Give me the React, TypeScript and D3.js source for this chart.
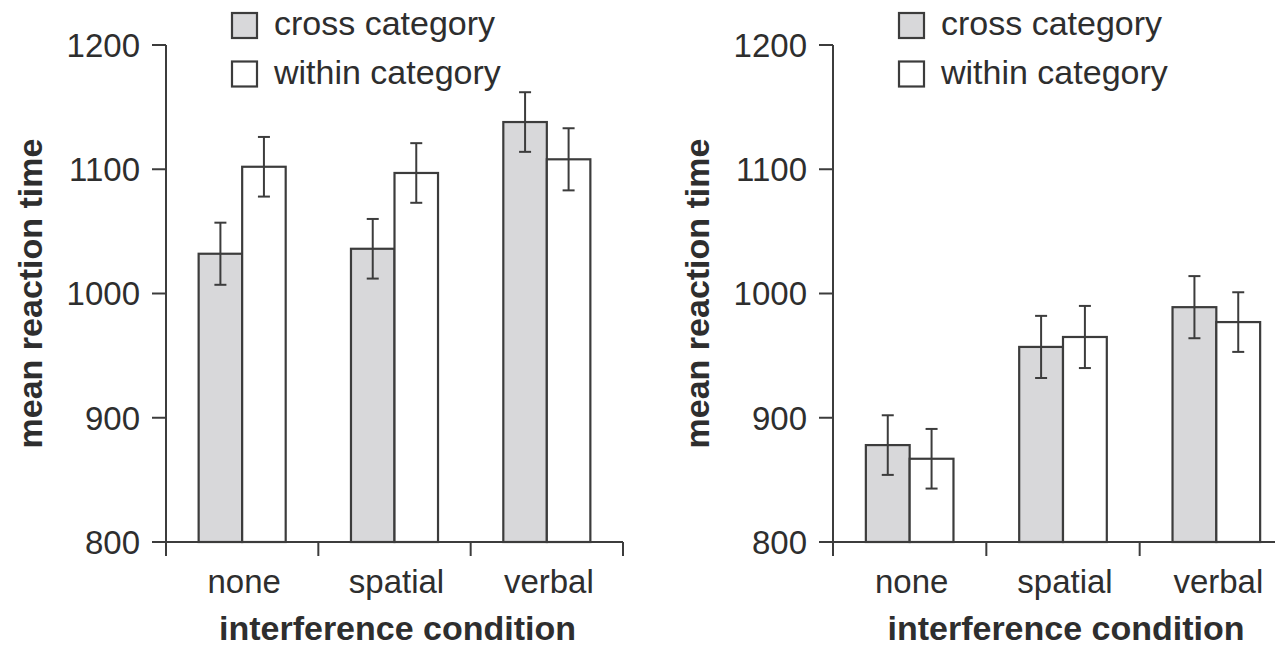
import * as d3 from 'd3'

// Categories and series
const conditions = ['none', 'spatial', 'verbal']
const seriesNames = ['cross category', 'within category']
const yTicks = [800, 900, 1000, 1100, 1200]

// Panel A (left)
const leftCross = [1032, 1036, 1138]
const leftWithin = [1102, 1097, 1108]
const leftCrossErr = [25, 24, 24]
const leftWithinErr = [24, 24, 25]

// Panel B (right)
const rightCross = [878, 957, 989]
const rightWithin = [867, 965, 977]
const rightCrossErr = [24, 25, 25]
const rightWithinErr = [24, 25, 24]

const W = 1275
const H = 647
const fills = ['#d8d8da', '#ffffff']
const ink = '#3c3c3c'
const textColor = '#2e2e2e'
const font = '"Liberation Sans", Arial, Helvetica, sans-serif'

type PanelProps = {
  axisX: number
  axisEnd: number
  cross: number[]
  within: number[]
  crossErr: number[]
  withinErr: number[]
}

function Panel({ axisX, axisEnd, cross, within, crossErr, withinErr }: PanelProps) {
  const y = d3.scaleLinear().domain([800, 1200]).range([542, 45])
  const x = d3.scaleBand().domain(conditions).range([axisX, axisEnd]).paddingInner(0).paddingOuter(0)
  const xs = d3.scaleBand().domain(seriesNames).range([0, x.bandwidth()]).paddingInner(0).paddingOuter(0.75)
  const values = [cross, within]
  const errs = [crossErr, withinErr]
  const tickLen = 14
  const y0 = y(800)

  return (
    <g>
      {/* bars */}
      {conditions.map((c, ci) =>
        seriesNames.map((s, si) => {
          const bx = (x(c) ?? 0) + (xs(s) ?? 0)
          const v = values[si][ci]
          return (
            <rect
              key={c + s}
              x={bx}
              y={y(v)}
              width={xs.bandwidth()}
              height={y0 - y(v)}
              fill={fills[si]}
              stroke={ink}
              strokeWidth={2.2}
            />
          )
        })
      )}
      {/* error bars */}
      {conditions.map((c, ci) =>
        seriesNames.map((s, si) => {
          const cx = (x(c) ?? 0) + (xs(s) ?? 0) + xs.bandwidth() / 2
          const v = values[si][ci]
          const e = errs[si][ci]
          return (
            <g key={'e' + c + s} stroke={ink} strokeWidth={2}>
              <line x1={cx} x2={cx} y1={y(v + e)} y2={y(v - e)} />
              <line x1={cx - 6} x2={cx + 6} y1={y(v + e)} y2={y(v + e)} />
              <line x1={cx - 6} x2={cx + 6} y1={y(v - e)} y2={y(v - e)} />
            </g>
          )
        })
      )}
      {/* y axis */}
      <line x1={axisX} x2={axisX} y1={y(1200)} y2={y0} stroke={ink} strokeWidth={2} />
      {yTicks.map(t => (
        <g key={t}>
          <line x1={axisX - tickLen} x2={axisX} y1={y(t)} y2={y(t)} stroke={ink} strokeWidth={2} />
          <text
            x={axisX - 26}
            y={y(t)}
            dy="0.36em"
            textAnchor="end"
            fontSize={33}
            fill={textColor}
            fontFamily={font}
          >
            {t}
          </text>
        </g>
      ))}
      {/* x axis */}
      <line x1={axisX} x2={axisEnd} y1={y0} y2={y0} stroke={ink} strokeWidth={2} />
      {[...conditions.map(c => x(c) ?? 0), axisEnd].map((tx, i) => (
        <line key={i} x1={tx} x2={tx} y1={y0} y2={y0 + tickLen} stroke={ink} strokeWidth={2} />
      ))}
      {conditions.map(c => (
        <text
          key={c}
          x={(x(c) ?? 0) + x.bandwidth() / 2 + 2}
          y={593}
          textAnchor="middle"
          fontSize={33}
          fill={textColor}
          fontFamily={font}
        >
          {c}
        </text>
      ))}
      <text
        x={(axisX + axisX + x.step() * 3) / 2 + 3}
        y={640}
        textAnchor="middle"
        fontSize={34}
        fontWeight="bold"
        fill={textColor}
        fontFamily={font}
      >
        interference condition
      </text>
      <text
        transform={`translate(${axisX - 124},${(y(800) + y(1200)) / 2}) rotate(-90)`}
        textAnchor="middle"
        fontSize={34}
        fontWeight="bold"
        fill={textColor}
        fontFamily={font}
      >
        mean reaction time
      </text>
      {/* legend */}
      {seriesNames.map((s, i) => (
        <g key={s} transform={`translate(${axisX + 66},${13 + i * 48.5})`}>
          <rect x={0} y={0} width={25} height={25} fill={fills[i]} stroke={ink} strokeWidth={2.2} />
          <text x={42} y={22} fontSize={34} fill={textColor} fontFamily={font}>
            {s}
          </text>
        </g>
      ))}
    </g>
  )
}

export default function App() {
  return (
    <svg
      width={W}
      height={H}
      style={{ position: 'absolute', left: 0, top: 0, background: '#fff' }}
    >
      <rect width={W} height={H} fill="#fff" />
      <Panel
        axisX={166}
        axisEnd={623}
        cross={leftCross}
        within={leftWithin}
        crossErr={leftCrossErr}
        withinErr={leftWithinErr}
      />
      <Panel
        axisX={833}
        axisEnd={1293}
        cross={rightCross}
        within={rightWithin}
        crossErr={rightCrossErr}
        withinErr={rightWithinErr}
      />
    </svg>
  )
}
